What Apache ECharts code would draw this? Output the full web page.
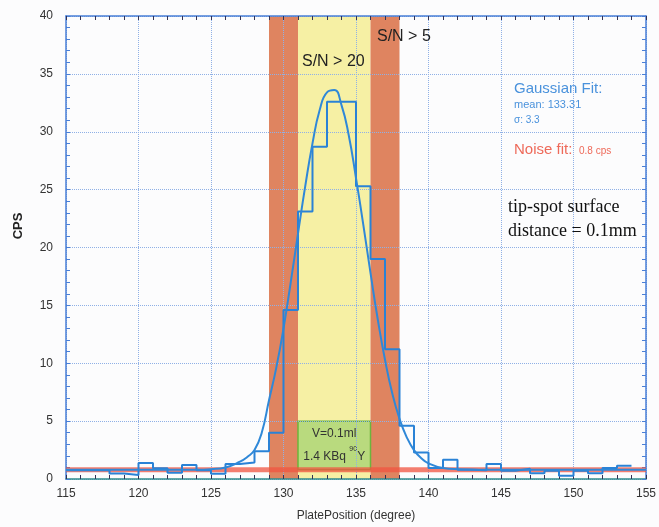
<!DOCTYPE html>
<html>
<head>
<meta charset="utf-8">
<script src="https://cdn.jsdelivr.net/npm/echarts@6/dist/echarts.min.js"></script>
<style>
html,body{margin:0;padding:0;background:#fcfcfd;}
#chart{width:659px;height:527px;}
</style>
</head>
<body>
<div id="chart"></div>
<script>
// Histogram: left edge of each 1-degree bin and its count rate
const binEdges = [115,116,117,118,119,120,121,122,123,124,125,126,127,128,129,130,131,132,133,134,135,136,137,138,139,140,141,142,143,144,145,146,147,148,149,150,151,152,153];
const binValues = [0.75,0.75,0.75,0.48,0.35,1.38,0.92,0.55,1.2,0.75,0.45,1.3,1.43,2.4,4.0,14.6,23.1,28.7,32.6,32.6,25.3,19.0,11.2,4.6,2.3,0.95,1.67,0.8,0.75,1.3,0.72,0.88,0.49,0.72,0.29,0.72,0.49,0.95,1.15];
const histEnd = 154;

// Gaussian fit curve
const fitX = [115,118,121,124,125,126,127,127.5,128,128.5,129,129.5,130,130.5,131,131.5,132,132.5,133,133.5,134,134.5,135,135.5,136,136.5,137,137.5,138,138.5,139,139.5,140,141,142,145,150,155];
const fitY = [0.8,0.8,0.8,0.8,0.85,1.0,1.5,1.9,2.5,4.0,6.8,9.6,13.0,17.0,21.2,25.3,29.0,31.9,33.4,33.6,32.3,29.7,26.0,22.0,17.8,13.8,10.3,7.4,5.2,3.6,2.5,1.8,1.35,0.95,0.85,0.8,0.8,0.8];

// Noise level
const noiseLevel = 0.8;
const xRange = [115, 155];
const yRange = [0, 40];

// Regions: S/N>5 (outer), S/N>20 (inner), source box
const snr5Left = [129, 131];
const snr20 = [131, 136];
const snr5Right = [136, 138];
const sourceBox = {x: [131, 136], y: [0.8, 5]};

const histData = binEdges.map((e, i) => [e, binValues[i]]);
histData.push([histEnd, binValues[binValues.length - 1]]);
const fitData = fitX.map((x, i) => [x, fitY[i]]);

const blue = '#2a82d6';
const axisBlue = '#4a7fd6';
const gridDot = '#8fb0e6';

const chart = echarts.init(document.getElementById('chart'), null, {renderer: 'canvas'});

const baseX = {
  type: 'value', min: xRange[0], max: xRange[1], interval: 5,
  axisLine: {show: true, onZero: false, lineStyle: {color: axisBlue, width: 1.5}},
  axisTick: {show: true, inside: true, length: 4, lineStyle: {color: '#335', width: 1}},
  minorTick: {show: true, splitNumber: 5, length: 4, lineStyle: {color: '#335', width: 1}},
};
const baseY = {
  type: 'value', min: yRange[0], max: yRange[1], interval: 5,
  axisLine: {show: true, onZero: false, lineStyle: {color: axisBlue, width: 1.5}},
  axisTick: {show: true, inside: true, length: 4, lineStyle: {color: axisBlue, width: 1}},
  minorTick: {show: true, splitNumber: 5, length: 4, lineStyle: {color: axisBlue, width: 1}},
};

const option = {
  backgroundColor: '#fcfcfd',
  animation: false,
  grid: {left: 66, right: 7, top: 16, bottom: 47},
  xAxis: [
    Object.assign({}, baseX, {
      position: 'bottom', z: 2,
      axisLine: {show: true, onZero: false, lineStyle: {color: '#2f8a8c', width: 1.5}},
      axisLabel: {margin: 9, fontSize: 12, color: '#333', fontFamily: 'Liberation Sans'},
      splitLine: {show: true, lineStyle: {color: gridDot, type: 'dotted', width: 1}},
      name: 'PlatePosition (degree)', nameLocation: 'middle', nameGap: 31,
      nameTextStyle: {fontSize: 12, color: '#333', fontFamily: 'Liberation Sans'}
    }),
    Object.assign({}, baseX, {
      position: 'top', z: 2,
      axisLabel: {show: false},
      splitLine: {show: false}
    })
  ],
  yAxis: [
    Object.assign({}, baseY, {
      position: 'left', z: 2,
      axisLabel: {margin: 13, fontSize: 12, color: '#333', fontFamily: 'Liberation Sans'},
      splitLine: {show: true, lineStyle: {color: gridDot, type: 'dotted', width: 1}}
    }),
    Object.assign({}, baseY, {
      position: 'right', z: 2,
      axisLabel: {show: false},
      splitLine: {show: false}
    })
  ],
  series: [
    {
      type: 'line', data: [], z: 1, silent: true,
      markArea: {
        silent: true, z: 1,
        data: [
          [{xAxis: snr5Left[0], yAxis: yRange[0], itemStyle: {color: '#df8460'}}, {xAxis: snr5Left[1], yAxis: yRange[1]}],
          [{xAxis: snr20[0], yAxis: yRange[0], itemStyle: {color: '#f6f0a4'}}, {xAxis: snr20[1], yAxis: yRange[1]}],
          [{xAxis: snr5Right[0], yAxis: yRange[0], itemStyle: {color: '#df8460'}}, {xAxis: snr5Right[1], yAxis: yRange[1]}],
          [{
            xAxis: sourceBox.x[0], yAxis: sourceBox.y[0],
            itemStyle: {color: '#b9da7e', borderColor: '#6cb53c', borderWidth: 1.5},
            label: {
              show: true, position: 'inside',
              formatter: 'V=0.1ml\n1.4 KBq {sup|90}Y',
              fontSize: 12, color: '#333', lineHeight: 23, fontFamily: 'Liberation Sans',
              rich: {sup: {fontSize: 7, verticalAlign: 'top', lineHeight: 23, padding: [0, 0, 8, 0], color: '#333'}}
            }
          }, {xAxis: sourceBox.x[1], yAxis: sourceBox.y[1]}]
        ]
      }
    },
    {
      type: 'line', name: 'noise',
      data: [[xRange[0], noiseLevel], [xRange[1], noiseLevel]],
      showSymbol: false, z: 3,
      lineStyle: {color: 'rgba(240,84,64,0.75)', width: 5}
    },
    {
      type: 'line', name: 'hist', data: histData, step: 'end',
      showSymbol: false, z: 4,
      lineStyle: {color: blue, width: 2}
    },
    {
      type: 'line', name: 'fit', data: fitData, smooth: 0.5,
      showSymbol: false, z: 5,
      lineStyle: {color: '#2f88d8', width: 2}
    }
  ],
  graphic: [
    {type: 'text', z: 20, x: 302, y: 62, style: {text: 'S/N > 20', font: '16px "Liberation Sans"', fill: '#222', verticalAlign: 'middle'}},
    {type: 'text', z: 20, x: 377, y: 37, style: {text: 'S/N > 5', font: '16px "Liberation Sans"', fill: '#222', verticalAlign: 'middle'}},
    {type: 'text', z: 20, x: 514, y: 89, style: {text: 'Gaussian Fit:', font: '15px "Liberation Sans"', fill: '#4a92dc', verticalAlign: 'middle'}},
    {type: 'text', z: 20, x: 514, y: 105, style: {text: 'mean: 133.31', font: '11px "Liberation Sans"', fill: '#4a92dc', verticalAlign: 'middle'}},
    {type: 'text', z: 20, x: 514, y: 120, style: {text: 'σ: 3.3', font: '10px "Liberation Sans"', fill: '#4a92dc', verticalAlign: 'middle'}},
    {type: 'text', z: 20, x: 514, y: 150, style: {text: 'Noise fit:', font: '15px "Liberation Sans"', fill: '#ee6a5a', verticalAlign: 'middle'}},
    {type: 'text', z: 20, x: 579, y: 151, style: {text: '0.8 cps', font: '10px "Liberation Sans"', fill: '#ee6a5a', verticalAlign: 'middle'}},
    {type: 'text', z: 20, x: 508, y: 207, style: {text: 'tip-spot surface', font: '18px "Liberation Serif"', fill: '#111', verticalAlign: 'middle'}},
    {type: 'text', z: 20, x: 508, y: 231, style: {text: 'distance = 0.1mm', font: '18px "Liberation Serif"', fill: '#111', verticalAlign: 'middle'}},
    {type: 'text', z: 20, x: 18, y: 226, rotation: Math.PI / 2, style: {text: 'CPS', font: 'bold 13px "Liberation Sans"', fill: '#222', align: 'center', verticalAlign: 'middle'}}
  ]
};
chart.setOption(option);
</script>
</body>
</html>
